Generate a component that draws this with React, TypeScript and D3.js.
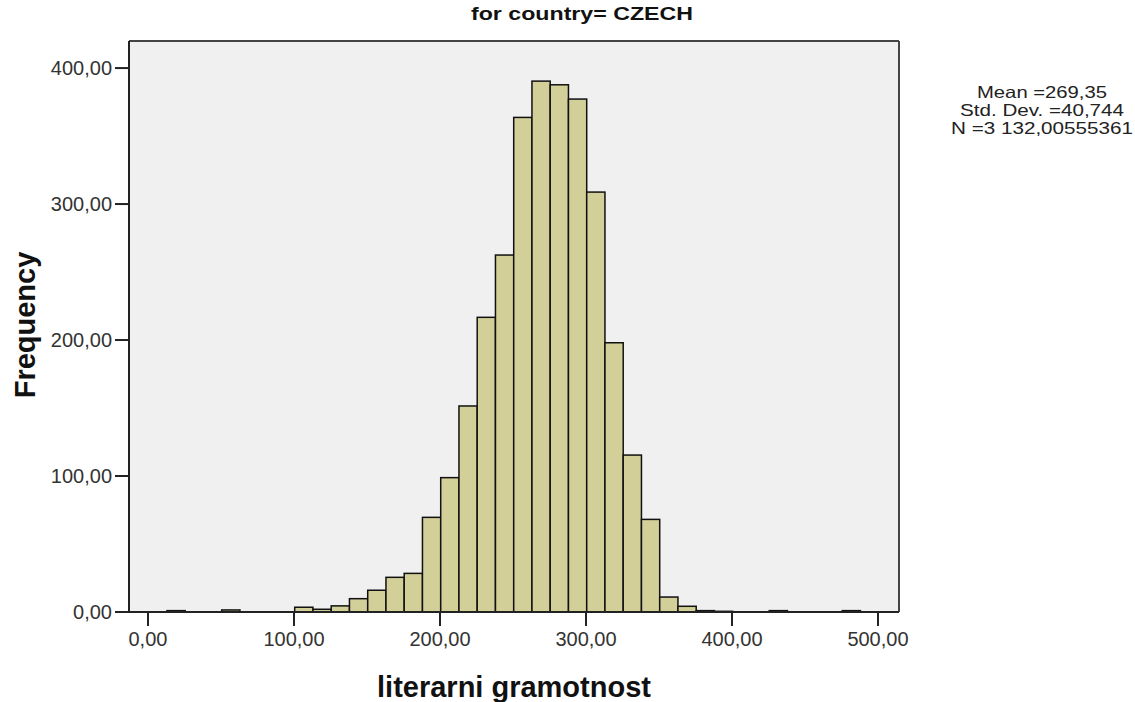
import React from "react";
import * as d3 from "d3";

const binLower: number[] = [
  13, 25.5, 38, 50.5, 63, 75.5, 88, 100.5, 113, 125.5, 138, 150.5, 163, 175.5,
  188, 200.5, 213, 225.5, 238, 250.5, 263, 275.5, 288, 300.5, 313, 325.5, 338,
  350.5, 363, 375.5, 388, 400.5, 413, 425.5, 438, 450.5, 463, 475.5,
];
const binWidth = 12.5;
const frequency: number[] = [
  1, 0, 0, 1.5, 0, 0, 0, 3.5, 2, 4.5, 9.8, 16, 25.5, 28.4, 69.6, 98.8, 151.5,
  216.7, 262.5, 363.7, 390.4, 387.7, 377.2, 308.8, 198, 115.4, 68.1, 11, 4.2, 1,
  0.5, 0, 0, 1, 0, 0, 0, 1,
];
const xTicks: number[] = [0, 100, 200, 300, 400, 500];
const yTicks: number[] = [0, 100, 200, 300, 400];
const titleText = "for country= CZECH";
const xTitle = "literarni gramotnost";
const yTitle = "Frequency";
const statsLines: string[] = [
  "Mean =269,35",
  "Std. Dev. =40,744",
  "N =3 132,00555361",
];
const statsWidths: number[] = [130, 164, 182];

const fmt = (v: number) => v.toFixed(2).replace(".", ",");
const FONT = "'Liberation Sans', Arial, sans-serif";

export default function App() {
  const left = 129, right = 899, top = 41, bottom = 612;
  const x = d3.scaleLinear().domain([-13, 514.4]).range([left, right]);
  const y = d3.scaleLinear().domain([0, 419.9]).range([bottom, top]);

  return (
    <svg
      width={1135}
      height={702}
      style={{ position: "absolute", left: 0, top: 0, background: "#fff" }}
    >
      <rect x={left} y={top} width={right - left} height={bottom - top} fill="#f0f0f0" />
      {frequency.map((f, i) =>
        f > 0 ? (
          <rect
            key={i}
            x={x(binLower[i])}
            y={y(f)}
            width={x(binLower[i] + binWidth) - x(binLower[i])}
            height={y(0) - y(f)}
            fill="#d3cf98"
            stroke="#111"
            strokeWidth={1.5}
          />
        ) : null
      )}
      {/* frame */}
      <line x1={left} y1={top} x2={right} y2={top} stroke="#444" strokeWidth={2} />
      <line x1={right} y1={top} x2={right} y2={bottom} stroke="#444" strokeWidth={2} />
      <line x1={left} y1={top} x2={left} y2={bottom} stroke="#222" strokeWidth={2} />
      <line x1={left - 14} y1={bottom} x2={right} y2={bottom} stroke="#222" strokeWidth={2} />
      {/* y ticks */}
      {yTicks.map((t) => (
        <g key={t}>
          <line x1={left - 14} x2={left} y1={y(t)} y2={y(t)} stroke="#222" strokeWidth={2} />
          <text
            x={left - 17}
            y={y(t)}
            dy="0.36em"
            textAnchor="end"
            fontFamily={FONT}
            fontSize={20}
            fill="#333"
          >
            {fmt(t)}
          </text>
        </g>
      ))}
      {/* x ticks */}
      {xTicks.map((t) => (
        <g key={t}>
          <line x1={x(t)} x2={x(t)} y1={bottom} y2={bottom + 14} stroke="#222" strokeWidth={2} />
          <text
            x={x(t)}
            y={bottom + 34}
            textAnchor="middle"
            fontFamily={FONT}
            fontSize={20}
            fill="#333"
          >
            {fmt(t)}
          </text>
        </g>
      ))}
      <text
        x={582}
        y={20}
        textAnchor="middle"
        fontFamily={FONT}
        fontWeight="bold"
        fontSize={19}
        textLength={222}
        lengthAdjust="spacingAndGlyphs"
        fill="#111"
      >
        {titleText}
      </text>
      <text
        x={514}
        y={697}
        textAnchor="middle"
        fontFamily={FONT}
        fontWeight="bold"
        fontSize={29}
        fill="#111"
      >
        {xTitle}
      </text>
      <text
        transform={`translate(35,325) rotate(-90)`}
        textAnchor="middle"
        fontFamily={FONT}
        fontWeight="bold"
        fontSize={29}
        fill="#111"
      >
        {yTitle}
      </text>
      {statsLines.map((s, i) => (
        <text
          key={i}
          x={1042}
          y={98 + i * 18}
          textAnchor="middle"
          fontFamily={FONT}
          fontSize={16.5}
          textLength={statsWidths[i]}
          lengthAdjust="spacingAndGlyphs"
          fill="#222"
        >
          {s}
        </text>
      ))}
    </svg>
  );
}
